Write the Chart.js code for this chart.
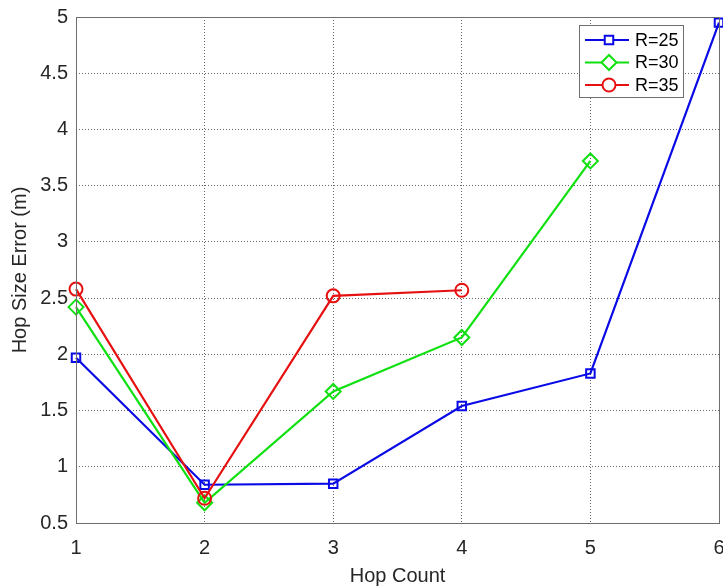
<!DOCTYPE html>
<html>
<head>
<meta charset="utf-8">
<script src="https://cdn.jsdelivr.net/npm/chart.js@4"></script>
<style>
html,body{margin:0;padding:0;background:#fff;}
#wrap{width:723px;height:588px;position:relative;}
</style>
</head>
<body>
<div id="wrap"><canvas id="c" width="723" height="588"></canvas></div>
<script>
const hopCount = [1, 2, 3, 4, 5, 6];
const r25 = [1.97, 0.84, 0.85, 1.54, 1.83, 4.95];
const r30 = [2.42, 0.68, 1.67, 2.15, 3.72];
const r35 = [2.58, 0.72, 2.52, 2.57];
const seriesLabels = ['R=25', 'R=30', 'R=35'];
const yTicks = [0.5, 1, 1.5, 2, 2.5, 3, 3.5, 4, 4.5, 5];

const FONT = '"Liberation Sans", Arial, sans-serif';
const TXT = '#262626';

function pts(vals){ return vals.map((v,i)=>({x: hopCount[i], y: v})); }

const styles = [
  {color:'#0a0ae6', point:'rect', r:6},
  {color:'#10e010', point:'rectRot', r:7.5},
  {color:'#e61010', point:'circle', r:6.5}
];
const seriesData = [r25, r30, r35];

const datasets = seriesData.map((d,i)=>({
  label: seriesLabels[i],
  data: pts(d),
  borderColor: styles[i].color,
  backgroundColor: 'rgba(0,0,0,0)',
  borderWidth: 2.2,
  pointStyle: styles[i].point,
  pointRadius: styles[i].r,
  pointBorderWidth: 2,
  pointBackgroundColor: 'rgba(0,0,0,0)',
  pointBorderColor: styles[i].color,
  tension: 0,
  clip: false,
  order: 2 - i
}));

const boxPlugin = {
  id: 'box',
  afterDatasetsDraw(chart){
    const {ctx, chartArea:a} = chart;
    ctx.save();
    ctx.strokeStyle = '#6e6e6e';
    ctx.lineWidth = 1;
    ctx.strokeRect(Math.round(a.left)+0.5, Math.round(a.top)+0.5, Math.round(a.right-a.left), Math.round(a.bottom-a.top));
    ctx.restore();
  },
  afterDraw(chart){
    const {ctx} = chart;
    const x0 = 579, y0 = 25, w = 104, h = 72;
    ctx.save();
    ctx.fillStyle = '#fff';
    ctx.fillRect(x0, y0, w, h);
    ctx.strokeStyle = '#6e6e6e';
    ctx.lineWidth = 1;
    ctx.strokeRect(x0+0.5, y0+0.5, w, h);
    chart.data.datasets.forEach((ds, i)=>{
      const cy = y0 + 15 + i*22.5;
      ctx.strokeStyle = ds.borderColor;
      ctx.lineWidth = 2.2;
      ctx.beginPath(); ctx.moveTo(x0+6, cy); ctx.lineTo(x0+50, cy); ctx.stroke();
      ctx.fillStyle = '#fff';
      ctx.lineWidth = 2;
      Chart.helpers.drawPoint(ctx, {pointStyle: ds.pointStyle, radius: ds.pointRadius, borderWidth: 2}, x0+30, cy);
      ctx.fillStyle = '#000';
      ctx.font = '18px ' + FONT;
      ctx.textBaseline = 'middle';
      ctx.textAlign = 'left';
      ctx.fillText(ds.label, x0+56, cy+1);
    });
    ctx.restore();
  }
};

new Chart(document.getElementById('c'), {
  type: 'line',
  data: { datasets },
  options: {
    responsive: false,
    animation: false,
    devicePixelRatio: 1,
    layout: { autoPadding: false, padding: { top: 17, right: 4, left: 0, bottom: 0 } },
    plugins: { legend: { display: false }, tooltip: { enabled: false } },
    scales: {
      x: {
        type: 'linear', min: 1, max: 6,
        afterFit(s){ s.height = 65; s.paddingLeft = 0; s.paddingRight = 0; },
        ticks: { stepSize: 1, color: TXT, font: { family: FONT, size: 20 }, padding: 13, maxRotation: 0 },
        grid: { color: '#666', drawTicks: false, lineWidth: 1 },
        border: { display: false, dash: [1,2] },
        title: { display: true, text: 'Hop Count', color: TXT, font: { family: FONT, size: 20 }, padding: { top: 4, bottom: 0 } }
      },
      y: {
        type: 'linear', min: 0.5, max: 5,
        afterFit(s){ s.width = 76; s.paddingTop = 0; s.paddingBottom = 0; },
        afterBuildTicks(s){ s.ticks = yTicks.map(v=>({value:v})); },
        ticks: { color: TXT, font: { family: FONT, size: 20 }, padding: 8, callback: v => String(v) },
        grid: { color: '#666', drawTicks: false, lineWidth: 1 },
        border: { display: false, dash: [1,2] },
        title: { display: true, text: 'Hop Size Error (m)', color: TXT, font: { family: FONT, size: 20 }, padding: { top: 8, bottom: 4 } }
      }
    }
  },
  plugins: [boxPlugin]
});
</script>
</body>
</html>
